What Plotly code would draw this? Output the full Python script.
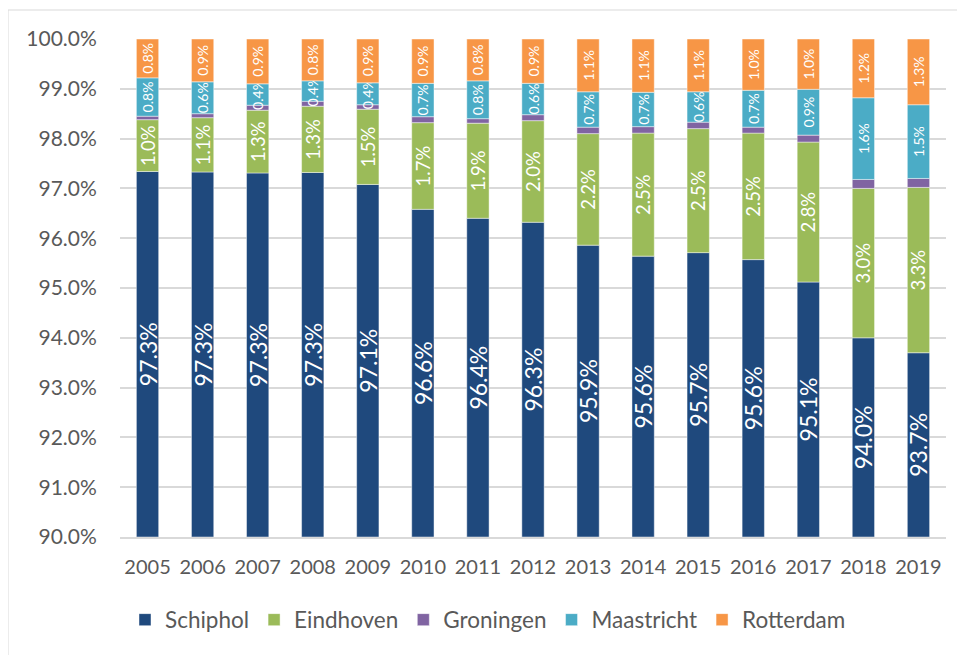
import numpy as np
import plotly.graph_objects as go

years = ["2005", "2006", "2007", "2008", "2009", "2010", "2011", "2012",
         "2013", "2014", "2015", "2016", "2017", "2018", "2019"]

schiphol = [97.34, 97.33, 97.31, 97.32, 97.08, 96.58, 96.40, 96.32,
            95.86, 95.64, 95.71, 95.57, 95.12, 94.00, 93.70]
eindhoven = [1.04, 1.09, 1.26, 1.33, 1.51, 1.74, 1.91, 2.04,
             2.24, 2.47, 2.49, 2.54, 2.81, 3.00, 3.32]
groningen = [0.07, 0.08, 0.10, 0.10, 0.09, 0.12, 0.09, 0.12,
             0.13, 0.13, 0.13, 0.12, 0.14, 0.18, 0.18]
maastricht = [0.77, 0.64, 0.43, 0.41, 0.44, 0.67, 0.76, 0.63,
              0.71, 0.69, 0.61, 0.74, 0.92, 1.64, 1.48]
rotterdam = [0.78, 0.86, 0.90, 0.84, 0.88, 0.89, 0.84, 0.89,
             1.06, 1.07, 1.06, 1.03, 1.01, 1.18, 1.32]

y_ticks = [90, 91, 92, 93, 94, 95, 96, 97, 98, 99, 100]
AXIS_MIN = 90

FONT = "Lato"
GREY = "#595959"

series = [
    ("Schiphol", schiphol, "#1F497D", 23, True),
    ("Eindhoven", eindhoven, "#9BBB59", 18.5, True),
    ("Groningen", groningen, "#8064A2", 14, False),
    ("Maastricht", maastricht, "#4BACC6", 14, True),
    ("Rotterdam", rotterdam, "#F79646", 14, True),
]

fig = go.Figure()
# Excel-style stacked bars starting at the axis minimum (90%)
cum = np.zeros(len(years))
for i, (name, vals, color, fsize, show_text) in enumerate(series):
    v = np.array(vals, dtype=float)
    if i == 0:
        base = np.full(len(years), AXIS_MIN, dtype=float)
        height = v - AXIS_MIN
    else:
        base = cum.copy()
        height = v
    cum = base + height
    fig.add_trace(go.Bar(
        x=years, y=height, base=base, name=name,
        customdata=v,
        marker=dict(color=color, line=dict(color="rgba(255,255,255,0.45)", width=1)),
        texttemplate="%{customdata:.1f}%" if show_text else None,
        textposition="inside" if show_text else "none",
        insidetextanchor="middle",
        textangle=-90,
        constraintext="none",
        textfont=dict(family=FONT, size=fsize, color="white"),
        hoverinfo="skip",
    ))

# page has an 8px body margin; plot area on screen: x 120..946, y 39..537
PW, PH = 826.0, 498.0
def px_x(p):
    return (p - 120) / PW

def px_y(p):
    return (537 - p) / PH

fig.add_shape(type="rect", xref="paper", yref="paper",
              x0=px_x(8), x1=px_x(963), y0=px_y(670), y1=px_y(10),
              line=dict(color="#D9D9D9", width=1), fillcolor="rgba(0,0,0,0)",
              layer="below")

fig.update_layout(
    width=965, height=655,
    margin=dict(l=112, r=27, t=31, b=126),
    barmode="overlay",
    bargap=0.595,
    paper_bgcolor="white",
    plot_bgcolor="white",
    font=dict(family=FONT, color=GREY, size=20),
    showlegend=True,
    legend=dict(
        orientation="h", traceorder="normal",
        x=px_x(125), xanchor="left",
        y=px_y(620), yanchor="middle",
        font=dict(family=FONT, size=22.5, color=GREY),
        itemwidth=30,
        bgcolor="rgba(0,0,0,0)",
    ),
    xaxis=dict(
        type="category",
        showgrid=False,
        showline=True, linecolor="#D9D9D9", linewidth=1.5,
        ticks="outside", ticklen=11, tickcolor="rgba(0,0,0,0)",
        tickfont=dict(family=FONT, size=20, color=GREY),
        fixedrange=True,
    ),
    yaxis=dict(
        range=[90, 100],
        tickvals=y_ticks,
        ticktext=[f"{v:.1f}%" for v in y_ticks],
        showgrid=True, gridcolor="#D9D9D9", gridwidth=1.5,
        zeroline=False, showline=False,
        ticks="outside", ticklen=18, tickcolor="rgba(0,0,0,0)",
        tickfont=dict(family=FONT, size=21, color=GREY),
        fixedrange=True,
    ),
)

fig.write_html("out.html")
